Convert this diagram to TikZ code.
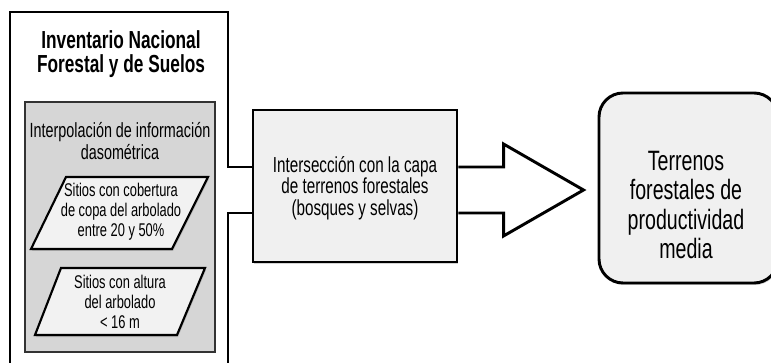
\documentclass[tikz,border=0pt]{standalone}
\usepackage{fontspec}
\newfontfamily\narrowsans[FakeStretch=0.7]{Liberation Sans}
\usetikzlibrary{fit,calc,shadows}

\definecolor{grayfill}{HTML}{D6D6D6}
\definecolor{graybord}{HTML}{333333}
\definecolor{boxfill}{HTML}{F0F0F0}
\definecolor{sitefill}{HTML}{F2F2F2}

\begin{document}
\begin{tikzpicture}[x=0.75pt, y=-0.75pt,
    heavybox/.style={draw, line width=2.2pt, inner sep=0pt},
    softshadow/.style={drop shadow={shadow xshift=0.8pt, shadow yshift=-1.5pt, opacity=0.35}},
    sitebox/.style={draw, line width=1.6pt, fill=sitefill, softshadow},
    blockline/.style={line width=2.2pt},
    txt/.style 2 args={align=center, inner sep=0pt, font=\narrowsans\fontsize{#1}{#2}\selectfont}]
    \useasboundingbox (0,0) rectangle (771,363);
    \clip (0,0) rectangle (771,363);

    % LEFT: Inventario Nacional
    \node[heavybox, fit={(10,12) (228,395)}] (inv) {};
    \node[txt={18.5}{17.5}, font=\narrowsans\bfseries\fontsize{18.5}{17.5}\selectfont]
        (invtitle) at (121,54) {Inventario Nacional\\Forestal y de Suelos};

    % Interpolation block
    \node[draw=graybord, fill=grayfill, line width=1.6pt, inner sep=0pt,
        fit={(25,102) (215,352)}] (interp) {};
    \node[txt={15.4}{16.5}] (interptext) at (120,141)
        {Interpolación de información\\dasométrica};

    % Sites (parallelograms)
    \draw[sitebox] (66,177) -- (208,177) -- (172,249) -- (31,249) -- cycle;
    \node[txt={13.8}{15}] (cover) at (121,212)
        {Sitios con cobertura\\de copa del arbolado\\entre 20 y 50\%};
    \draw[sitebox] (61,268) -- (205,268) -- (177,335) -- (35,335) -- cycle;
    \node[txt={13.8}{15}] (height) at (120,302)
        {Sitios con altura\\del arbolado\\\textless{} 16 m};

    % MIDDLE: intersection
    \node[heavybox, fill=boxfill, softshadow, fit={(253,110) (457,262)}] (int) {};
    \node[txt={16.3}{16}] (inttext) at (355,188)
        {Intersección con la capa\\de terrenos forestales\\(bosques y selvas)};

    % RIGHT: result
    \node[heavybox, fill=boxfill, rounded corners=18pt, softshadow,
        fit={(599,93) (778,283)}] (terr) {};
    \node[txt={21}{22}] (terrtext) at (686,205)
        {Terrenos\\forestales de\\productividad\\media};

    % Block connector out of the frame
    \fill[white] ($(inv.east |- int.west)+(-2.5,-18)$) rectangle ($(int.west)+(-1.8,26)$);
    \draw[blockline] ($(inv.east |- int.west)+(-1.5,-19)$) -- ($(int.west)+(0,-19)$);
    \draw[blockline] ($(inv.east |- int.west)+(-1.5,27)$) -- ($(int.west)+(0,27)$);

    % Block arrow to the result
    \coordinate (tip) at ($(terr.west |- int.east)+(-14,4)$);
    \draw[blockline, line join=miter] ($(int.east)+(0,-19)$) -| ($(tip)+(-80,-46)$)
        -- (tip) -- ($(tip)+(-80,46)$) |- ($(int.east)+(0,27)$);
\end{tikzpicture}
\end{document}
